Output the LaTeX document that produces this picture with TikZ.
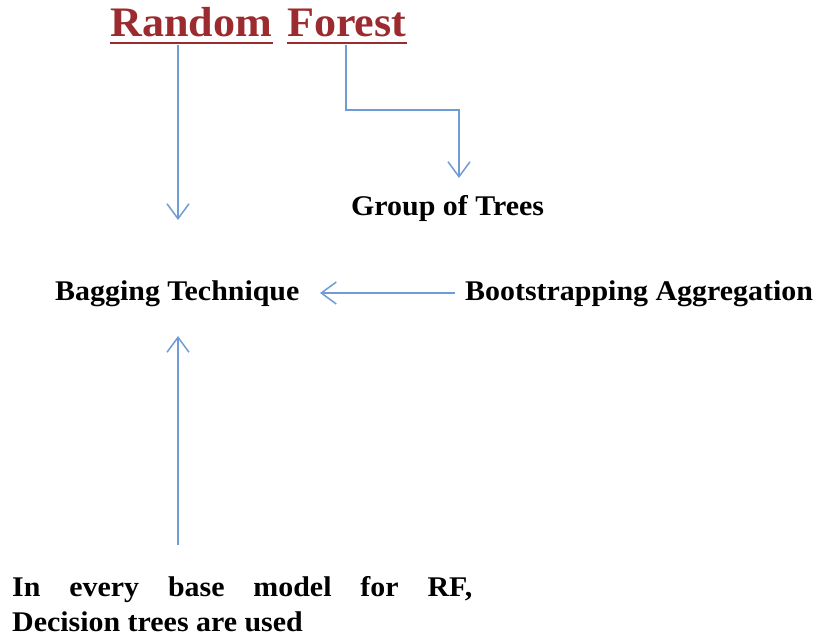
\documentclass[tikz,border=0pt]{standalone}
\usepackage{fontspec}
\setmainfont[FakeStretch=1.05]{Liberation Serif}
\usetikzlibrary{arrows.meta,calc}
\definecolor{titlered}{HTML}{9B2B2E}
\definecolor{arrowblue}{HTML}{6F9CD4}
\tikzset{
  titletext/.style={font=\fontsize{42}{46}\selectfont\bfseries, text=titlered, inner sep=0pt, anchor=base west},
  bodytext/.style={font=\fontsize{28.5}{35}\selectfont\bfseries, text=black, inner sep=0pt, anchor=base west},
  uline/.style={draw=titlered, line width=2.6pt},
  conn/.style={draw=arrowblue, line width=1.5pt, -{Straight Barb[length=15pt,width=22pt,line width=1.5pt]}}
}
\begin{document}
\begin{tikzpicture}[x=1pt,y=-1pt]
\useasboundingbox (0,0) rectangle (821,638);
\node[titletext] (rand) at (110,36) {Random};
\node[titletext] (forest) at (287,36) {Forest};
\draw[uline] ($(rand.base west)+(0,7)$) -- ($(rand.base east)+(1,7)$);
\draw[uline] ($(forest.base west)+(0,7)$) -- ($(forest.base east)+(0,7)$);
\node[bodytext] (group) at (351,215) {Group of Trees};
\node[bodytext] (bag) at (55,300) {Bagging Technique};
\node[bodytext] (boot) at (465,300) {Bootstrapping Aggregation};
\node[bodytext, text width=460pt, align=justify, anchor=north west] (base) at (12,576) {In every base model for RF,\linebreak Decision trees are used};
\coordinate (a1s) at (178,45);
\coordinate (a1e) at (178,220);
\coordinate (a2s) at (346,45);
\coordinate (a2e) at (459,178);
\coordinate (a3s) at (455,293);
\coordinate (a3e) at (320,293);
\coordinate (a4s) at (178,545);
\coordinate (a4e) at (178,336);
\path[conn] (a1s) -- (a1e);
\path[conn] (a2s) -- (346,110) -- (459,110) -- (a2e);
\path[conn] (a3s) -- (a3e);
\path[conn] (a4s) -- (a4e);
\end{tikzpicture}
\end{document}
